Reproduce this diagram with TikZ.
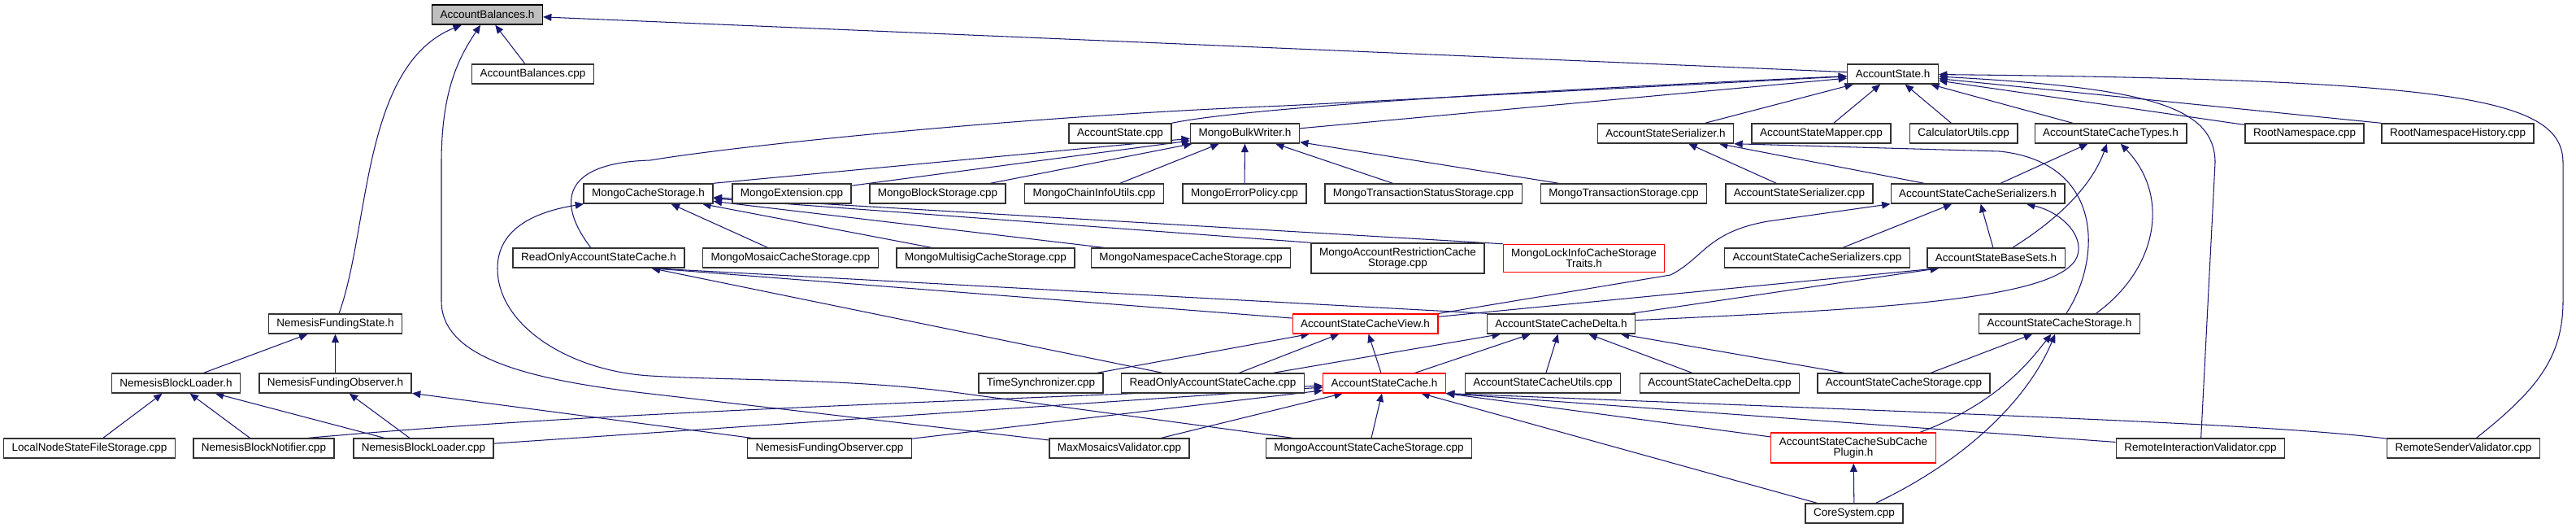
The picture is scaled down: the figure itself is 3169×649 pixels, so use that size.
\documentclass[tikz,border=0pt]{standalone}
\usepackage{fontspec}
\setmainfont{Liberation Sans}
\usetikzlibrary{arrows.meta, calc, backgrounds}
\definecolor{CE}{RGB}{25,25,112}
\definecolor{CB}{RGB}{50,50,50}
\definecolor{CR}{RGB}{255,0,0}
\definecolor{LGr}{RGB}{191,191,191}

\begin{document}
\begin{tikzpicture}[x=0.025cm, y=-0.025cm,
  box/.style={draw=CB, fill=white, line width=1pt, minimum height=0.6cm,
              inner xsep=0.25cm, inner ysep=0.14cm, align=center,
              font=\fontsize{9.6}{9.4}\selectfont},
  redbox/.style={box, draw=CR, line width=0.8pt},
  rootbox/.style={box, draw=black, fill=LGr},
  dep/.style={draw=CE, line width=0.75pt, -{Triangle[length=0.26cm, width=0.22cm]}}
]
\useasboundingbox (0,0) rectangle (3169,649);

\node[rootbox] (ab)  at (599.5,18) {AccountBalances.h};

\node[box] (abcpp) at (655.5,91)  {AccountBalances.cpp};
\node[box] (as)    at (2328.5,91) {AccountState.h};

\node[box] (ascpp)    at (1378,164)   {AccountState.cpp};
\node[box] (mbw)      at (1531.5,164) {MongoBulkWriter.h};
\node[box] (asser)    at (2049,164)   {AccountStateSerializer.h};
\node[box] (asmap)    at (2240.5,164) {AccountStateMapper.cpp};
\node[box] (calc)     at (2415.5,164) {CalculatorUtils.cpp};
\node[box] (asctypes) at (2596.5,164) {AccountStateCacheTypes.h};
\node[box] (rns)      at (2835,164)   {RootNamespace.cpp};
\node[box] (rnsh)     at (3023.5,164) {RootNamespaceHistory.cpp};

\node[box] (mcs)      at (797.5,238)  {MongoCacheStorage.h};
\node[box] (mext)     at (974,238)    {MongoExtension.cpp};
\node[box] (mblock)   at (1153.5,238) {MongoBlockStorage.cpp};
\node[box] (mchain)   at (1346,238)   {MongoChainInfoUtils.cpp};
\node[box] (merr)     at (1531,238)   {MongoErrorPolicy.cpp};
\node[box] (mtxstat)  at (1751,238)   {MongoTransactionStatusStorage.cpp};
\node[box] (mtx)      at (1997.5,238) {MongoTransactionStorage.cpp};
\node[box] (assercpp) at (2213.5,238) {AccountStateSerializer.cpp};
\node[box] (ascser)   at (2433,238)   {AccountStateCacheSerializers.h};

\node[box]    (roasc)     at (736.5,317)    {ReadOnlyAccountStateCache.h};
\node[box]    (mmosaic)   at (972.5,317)    {MongoMosaicCacheStorage.cpp};
\node[box]    (mmultisig) at (1212.5,317)   {MongoMultisigCacheStorage.cpp};
\node[box]    (mns)       at (1465,317)     {MongoNamespaceCacheStorage.cpp};
\node[box]    (mrestr)    at (1719.5,317.5) {MongoAccountRestrictionCache\\Storage.cpp};
\node[redbox] (mlock)     at (1948.5,317.5) {MongoLockInfoCacheStorage\\Traits.h};
\node[box]    (ascsercpp) at (2235.5,317)   {AccountStateCacheSerializers.cpp};
\node[box]    (asbase)    at (2455.5,317)   {AccountStateBaseSets.h};

\node[box]    (nfs)      at (412.5,398)  {NemesisFundingState.h};
\node[redbox] (ascview)  at (1679.5,398) {AccountStateCacheView.h};
\node[box]    (ascdelta) at (1920.5,398) {AccountStateCacheDelta.h};
\node[box]    (ascstor)  at (2533.5,398) {AccountStateCacheStorage.h};

\node[box]    (nbl)         at (216.5,471)  {NemesisBlockLoader.h};
\node[box]    (nfo)         at (412.5,471)  {NemesisFundingObserver.h};
\node[box]    (timesync)    at (1280.5,471) {TimeSynchronizer.cpp};
\node[box]    (roasccpp)    at (1492,471)   {ReadOnlyAccountStateCache.cpp};
\node[redbox] (asc)         at (1703,471)   {AccountStateCache.h};
\node[box]    (ascutils)    at (1898,471)   {AccountStateCacheUtils.cpp};
\node[box]    (ascdeltacpp) at (2115.5,471) {AccountStateCacheDelta.cpp};
\node[box]    (ascstorcpp)  at (2342,471)   {AccountStateCacheStorage.cpp};

\node[box]    (lnsfs)   at (110,551)    {LocalNodeStateFileStorage.cpp};
\node[box]    (nbn)     at (324.5,551)  {NemesisBlockNotifier.cpp};
\node[box]    (nblcpp)  at (521,551)    {NemesisBlockLoader.cpp};
\node[box]    (nfocpp)  at (1020.5,551) {NemesisFundingObserver.cpp};
\node[box]    (maxmos)  at (1377,551)   {MaxMosaicsValidator.cpp};
\node[box]    (mascs)   at (1684,551)   {MongoAccountStateCacheStorage.cpp};
\node[redbox] (plugin)  at (2280,550.5) {AccountStateCacheSubCache\\Plugin.h};
\node[box]    (remint)  at (2707,551)   {RemoteInteractionValidator.cpp};
\node[box]    (remsend) at (3030.5,551) {RemoteSenderValidator.cpp};

\node[box] (core) at (2281,631) {CoreSystem.cpp};

\begin{scope}[on background layer]
\draw[dep] (abcpp) -- (ab);
\draw[dep] (as) -- (ab);
\draw[dep] (nfs) .. controls (455,280) and (445,80) .. (ab);
\draw[dep] (maxmos) -- (800,484) .. controls (650,467) and (543,440) .. (543,370)
  -- (543,200) .. controls (543,110) and (565,70) .. (ab);

\draw[dep] (ascpp.north east) .. controls (1520,135) and (1800,115) .. (as);
\draw[dep] (mbw) -- (as);
\draw[dep] (roasc) .. controls (685,250) and (690,200) .. (800,197)
  .. controls (900,180) and (1250,143) .. (1580,130) -- (as);
\draw[dep] (asser) -- (as);
\draw[dep] (asmap) -- (as);
\draw[dep] (calc) -- (as);
\draw[dep] (asctypes) -- (as);
\draw[dep] (rns) -- (as);
\draw[dep] (rnsh.north west) -- (as);
\draw[dep] (remint) -- (2725,200) .. controls (2725,130) and (2640,108) .. (as);
\draw[dep] (remsend) .. controls (3120,480) and (3153,440) .. (3153,370)
  -- (3153,200) .. controls (3153,120) and (3020,98) .. (as);

\draw[dep] (mcs.north east) -- (mbw);
\draw[dep] (mext) -- (mbw);
\draw[dep] (mblock) -- (mbw);
\draw[dep] (mchain) -- (mbw);
\draw[dep] (merr) -- (mbw);
\draw[dep] (mtxstat) -- (mbw);
\draw[dep] (mtx) -- (mbw);

\draw[dep] (mmosaic) -- (mcs);
\draw[dep] (mmultisig) -- (mcs);
\draw[dep] (mns) -- (mcs);
\draw[dep] (mrestr.north west) -- (mcs);
\draw[dep] (mlock.north west) -- (mcs);
\draw[dep] (mascs) -- (1180,483) .. controls (1050,465) and (900,468) .. (800,462)
  .. controls (700,456) and (612,400) .. (612,330) .. controls (612,280) and (660,260) .. (mcs);

\draw[dep] (assercpp) -- (asser);
\draw[dep] (ascser) -- (asser);
\draw[dep] (ascstor) .. controls (2585,320) and (2590,200) .. (2460,186) -- (asser.south east);

\draw[dep] (ascser) -- (asctypes);
\draw[dep] (asbase) .. controls (2555,255) and (2580,210) .. (asctypes);
\draw[dep] ($(ascstor.north)+(45,0)$) .. controls (2655,330) and (2670,240) .. (asctypes);

\draw[dep] (ascsercpp) -- (ascser);
\draw[dep] (asbase) -- (ascser);
\draw[dep] (ascview.north east) -- (2055,338) .. controls (2095,318) and (2100,285) .. (2175,272)
  -- (ascser.south west);
\draw[dep] (ascdelta) .. controls (2300,380) and (2520,370) .. (2553,320)
  .. controls (2568,295) and (2540,262) .. ($(ascser.south)+(60,0)$);

\draw[dep] (ascview) -- ($(asbase.south west)+(15,0)$);
\draw[dep] (ascdelta) -- ($(asbase.south west)+(15,0)$);

\draw[dep] (ascview) -- ($(roasc.south)+(65,0)$);
\draw[dep] (ascdelta.north west) -- ($(roasc.south)+(65,0)$);
\draw[dep] (roasccpp) -- ($(roasc.south)+(65,0)$);

\draw[dep] (nbl) -- (nfs);
\draw[dep] (nfo) -- (nfs);
\draw[dep] (lnsfs) -- (nbl);
\draw[dep] (nbn) -- (nbl);
\draw[dep] (nblcpp) -- (nbl);
\draw[dep] (nblcpp) -- (nfo);
\draw[dep] (nfocpp) -- (nfo);

\draw[dep] (timesync) -- (ascview);
\draw[dep] (roasccpp) -- (ascview);
\draw[dep] (asc) -- (ascview);

\draw[dep] (roasccpp) -- (ascdelta);
\draw[dep] (asc) -- (ascdelta);
\draw[dep] (ascutils) -- (ascdelta);
\draw[dep] (ascdeltacpp) -- (ascdelta);
\draw[dep] (ascstorcpp) -- (ascdelta);

\draw[dep] (ascstorcpp) -- (ascstor);
\draw[dep] ($(plugin.north east)+(-20,0)$) .. controls (2460,495) and (2500,440) .. (ascstor);
\draw[dep] (core) .. controls (2420,565) and (2495,490) .. (ascstor);

\draw[dep] ($(nbn.north)+(55,0)$) .. controls (700,510) and (1000,500) .. (asc);
\draw[dep] (nblcpp) -- (asc);
\draw[dep] (nfocpp) -- (asc);
\draw[dep] (maxmos) -- (asc);
\draw[dep] (mascs) -- (asc);
\draw[dep] (core) -- (asc);
\draw[dep] (plugin) -- (asc.south east);
\draw[dep] (remint) -- (asc.south east);
\draw[dep] (remsend) .. controls (2800,522) and (2500,512) .. (asc.south east);

\draw[dep] (core) -- (plugin);
\end{scope}
\end{tikzpicture}
\end{document}
